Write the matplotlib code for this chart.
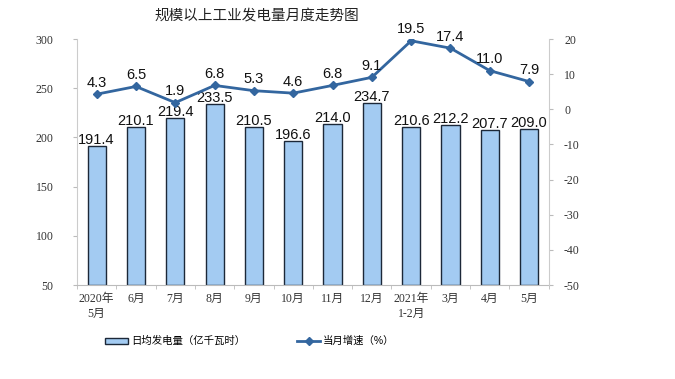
import matplotlib.pyplot as plt

plt.rcParams['font.family'] = ['Liberation Sans', 'Noto Sans CJK SC']
plt.rcParams['axes.unicode_minus'] = False

months = ['2020年\n5月', '6月', '7月', '8月', '9月', '10月', '11月', '12月',
          '2021年\n1-2月', '3月', '4月', '5月']
daily_output = [191.4, 210.1, 219.4, 233.5, 210.5, 196.6, 214.0, 234.7,
                210.6, 212.2, 207.7, 209.0]
growth = [4.3, 6.5, 1.9, 6.8, 5.3, 4.6, 6.8, 9.1, 19.5, 17.4, 11.0, 7.9]

bar_color = '#a3cbf2'
line_color = '#33669f'
tick_font = ['Liberation Serif', 'Noto Sans CJK SC']

fig = plt.figure(figsize=(6.75, 3.79), dpi=100)
ax = fig.add_axes([0.114, 0.248, 0.699, 0.649])
x = list(range(len(months)))

# bars
ax.bar(x, [v - 50 for v in daily_output], bottom=50, width=0.46,
       color=bar_color, edgecolor='#1c2838', linewidth=1.0, zorder=2,
       label='日均发电量（亿千瓦时）')
for xi, v in zip(x, daily_output):
    ax.text(xi, v - 1, f'{v:.1f}', ha='center', va='bottom', fontsize=10.5,
            color='#111111', zorder=5)

ax.set_xlim(-0.5, len(months) - 0.5)
ax.set_ylim(50, 300)
ax.set_yticks(range(50, 301, 50))
ax.set_xticks(x)
ax.set_xticklabels(months, family=tick_font, fontsize=8.5, color='#333333',
                   linespacing=1.25)
ax.set_xticks([i - 0.5 for i in range(len(months) + 1)], minor=True)
ax.tick_params(axis='x', which='major', length=0, pad=6)
ax.tick_params(axis='x', which='minor', length=3, color='#bbbbbb')
ax.tick_params(axis='y', length=3, color='#bbbbbb', labelsize=8.5, pad=14)
for lab in ax.get_yticklabels():
    lab.set_family(tick_font)
    lab.set_color('#333333')
for side in ['top', 'right']:
    ax.spines[side].set_visible(False)
ax.spines['left'].set_color('#cccccc')
ax.spines['bottom'].set_color('#bbbbbb')

# line on secondary axis
ax2 = ax.twinx()
ax2.plot(x, growth, color=line_color, linewidth=2, marker='D', markersize=4,
         zorder=4, label='当月增速（%）')
for xi, v in zip(x, growth):
    ax2.text(xi, v + 1.3, f'{v:.1f}', ha='center', va='bottom', fontsize=10.5,
             color='#111111', zorder=5)
ax2.set_ylim(-50, 20)
ax2.set_yticks(range(-50, 21, 10))
ax2.tick_params(axis='y', length=3, color='#bbbbbb', labelsize=8.5, pad=8)
for lab in ax2.get_yticklabels():
    lab.set_family(tick_font)
    lab.set_color('#333333')
for side in ['top', 'left', 'bottom']:
    ax2.spines[side].set_visible(False)
ax2.spines['right'].set_color('#cccccc')

fig.text(0.38, 0.96, '规模以上工业发电量月度走势图', ha='center', va='center',
         fontsize=10.5, family=['Noto Sans CJK SC'], color='#222222',
         fontweight='medium')

h1, l1 = ax.get_legend_handles_labels()
h2, l2 = ax2.get_legend_handles_labels()
fig.legend(h1 + h2, l1 + l2, loc='center', bbox_to_anchor=(0.37, 0.1),
           ncol=2, frameon=False, fontsize=7.5, columnspacing=5.0,
           handlelength=2.2, handleheight=0.5, handletextpad=0.3)

fig.savefig('out.png', dpi=100)
